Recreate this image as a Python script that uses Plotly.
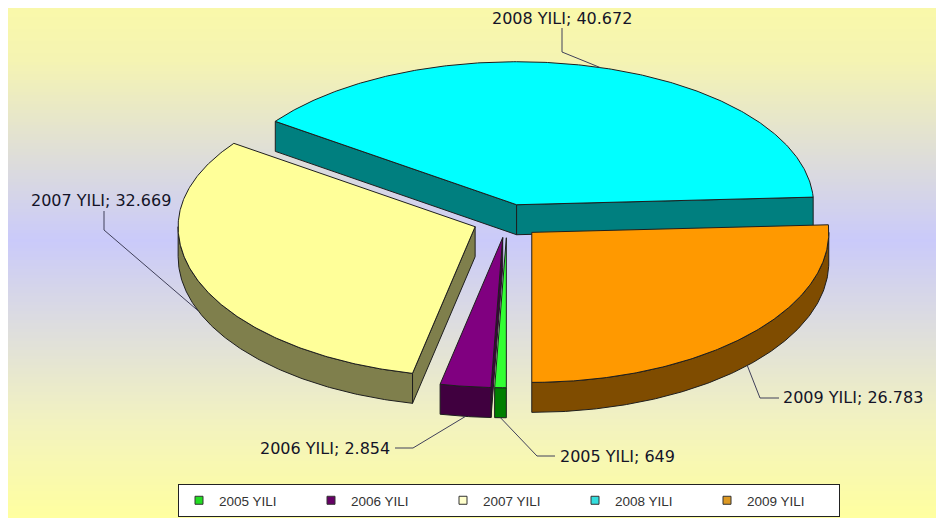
import numpy as np
import plotly.graph_objects as go

# ---------------- data ----------------
categories = ["2005 YILI", "2006 YILI", "2007 YILI", "2008 YILI", "2009 YILI"]
values = [649, 2854, 32669, 40672, 26783]

# ---------------- styles ----------------
top_colors = ["#33FF33", "#800080", "#FFFF99", "#00FFFF", "#FF9900"]
side_colors = ["#007F00", "#40003F", "#7F7F4C", "#007F7F", "#7F4C00"]
legend_colors = ["#22DD22", "#660066", "#FFFFCC", "#33DDDD", "#DD9922"]
OUTLINE = "#1E1E1E"
LABEL_COLOR = "#141428"
LEADER_COLOR = "#40405A"

# label placement (layout only, screen pixel coordinates)
label_text_pos = [(558, 456), (392, 448), (173, 200), (562, 18), (781, 397)]
label_xanchor = ["left", "right", "right", "center", "left"]
label_line_start = [(555, 456), (395, 448), (104, 211), (562, 28), (779, 398)]
label_elbow = [(537, 456), (413, 448), (104, 230), (562, 52), (760, 398)]

# canvas: page body has an 8px margin, so axes are shifted so that
# axis units equal screen pixels of the 944x518 window
W, H = 944, 518
PAGE = 8
CX, CY = 507.0, 220.5
RX = 297.0
RY_BACK, RY_FRONT = 143.0, 150.0
DEPTH = 30.0
EXPLODE = 0.115
START_ANGLE = 180.0  # degrees clockwise from 12 o'clock


def ry_of(c):
    return np.where(c > 0, RY_BACK, RY_FRONT)


def ell(theta_deg, cx, cy, r=1.0):
    t = np.radians(np.asarray(theta_deg, dtype=float))
    s, c = np.sin(t), np.cos(t)
    return cx + r * RX * s, cy - r * ry_of(c) * c


total = float(sum(values))
bounds = START_ANGLE + 360.0 * np.concatenate([[0.0], np.cumsum(values)]) / total

fig = go.Figure()

slices = []
for i, v in enumerate(values):
    a1, a2 = bounds[i], bounds[i + 1]
    mid = 0.5 * (a1 + a2)
    mt = np.radians(mid)
    dx = EXPLODE * RX * np.sin(mt)
    dy = -EXPLODE * float(ry_of(np.cos(mt))) * np.cos(mt)
    slices.append(dict(i=i, a1=a1, a2=a2, mid=mid, cx=CX + dx, cy=CY + dy))

# back to front drawing order
order = sorted(slices, key=lambda s: -np.cos(np.radians(s["mid"])))


def poly_trace(xs, ys, fill, name=None, hover=False, text=None):
    return go.Scatter(
        x=list(xs), y=list(ys), mode="lines", fill="toself",
        fillcolor=fill, line=dict(color=OUTLINE, width=1),
        showlegend=False, hoverinfo="text" if hover else "skip",
        text=text, hoveron="fills" if hover else None, name=name,
    )


for s in order:
    i, a1, a2, sx, sy = s["i"], s["a1"], s["a2"], s["cx"], s["cy"]
    # radial walls
    for a, vis in ((a1, np.sin(np.radians(a1)) < -1e-3), (a2, np.sin(np.radians(a2)) > 1e-3)):
        if vis:
            px, py = ell(a, sx, sy)
            xs = [sx, px, px, sx, sx]
            ys = [sy, py, py + DEPTH, sy + DEPTH, sy]
            fig.add_trace(poly_trace(xs, ys, side_colors[i]))
    # outer curved wall (front half only)
    for k in (0, 1):
        lo = max(a1, 90 + 360 * k)
        hi = min(a2, 270 + 360 * k)
        if hi > lo:
            th = np.linspace(lo, hi, max(2, int((hi - lo) * 2)))
            px, py = ell(th, sx, sy)
            xs = np.concatenate([px, px[::-1], px[:1]])
            ys = np.concatenate([py, py[::-1] + DEPTH, py[:1]])
            fig.add_trace(poly_trace(xs, ys, side_colors[i]))
    # top face
    th = np.linspace(a1, a2, max(2, int((a2 - a1) * 2)))
    px, py = ell(th, sx, sy)
    xs = np.concatenate([[sx], px, [sx]])
    ys = np.concatenate([[sy], py, [sy]])
    label = f"{values[i]:,}".replace(",", ".")
    fig.add_trace(poly_trace(xs, ys, top_colors[i], name=categories[i], hover=True,
                             text=f"{categories[i]}; {label}"))

# leader lines + labels
for s in slices:
    i = s["i"]
    mid = s["mid"]
    ax, ay = ell(mid, s["cx"], s["cy"])
    ax, ay = float(ax), float(ay)
    if np.cos(np.radians(mid)) < 0:
        ay += DEPTH
    (lx, ly), (ex, ey) = label_line_start[i], label_elbow[i]
    fig.add_trace(go.Scatter(x=[lx, ex, ax], y=[ly, ey, ay], mode="lines",
                             line=dict(color=LEADER_COLOR, width=1),
                             showlegend=False, hoverinfo="skip"))
    label = f"{values[i]:,}".replace(",", ".")
    tx, ty = label_text_pos[i]
    fig.add_annotation(x=tx, y=ty, xref="x", yref="y", text=f"{categories[i]}; {label}",
                       showarrow=False, xanchor=label_xanchor[i], yanchor="middle",
                       font=dict(family="DejaVu Sans", size=16, color=LABEL_COLOR))

# legend entries
for i, cat in enumerate(categories):
    fig.add_trace(go.Scatter(x=[None], y=[None], mode="markers", name=cat,
                             marker=dict(symbol="square", size=8, color=legend_colors[i],
                                         line=dict(color="#333333", width=1)),
                             showlegend=True, hoverinfo="skip"))

# gradient background bands
stops_y = [0, 60, 240, 420, 518]
stops_c = [(250, 249, 168), (245, 244, 178), (202, 202, 250), (242, 242, 192), (255, 255, 160)]
shapes = []
step = 3
for y0 in range(2, 530, step):
    yc = y0 + step / 2
    rgb = [int(round(np.interp(yc, stops_y, [c[k] for c in stops_c]))) for k in range(3)]
    shapes.append(dict(type="rect", xref="x", yref="y", x0=7, x1=W + PAGE, y0=y0, y1=y0 + step,
                       fillcolor=f"rgb({rgb[0]},{rgb[1]},{rgb[2]})", line=dict(width=0),
                       layer="below"))

LEG_LEFT, LEG_TOP = 178, 484
fig.update_layout(
    width=W, height=H,
    margin=dict(l=0, r=0, t=0, b=0, autoexpand=False),
    paper_bgcolor="white", plot_bgcolor="rgba(0,0,0,0)",
    xaxis=dict(range=[PAGE, W + PAGE], visible=False, fixedrange=True),
    yaxis=dict(range=[H + PAGE, PAGE], visible=False, fixedrange=True),
    shapes=shapes,
    showlegend=True,
    legend=dict(orientation="h", x=(LEG_LEFT - PAGE) / W, xanchor="left",
                y=1 - (LEG_TOP - PAGE) / H, yanchor="top",
                bgcolor="white", bordercolor="#222222", borderwidth=1,
                font=dict(family="Liberation Sans", size=13.5, color="#333333"),
                entrywidth=87, entrywidthmode="pixels", itemwidth=30,
                traceorder="normal"),
)

fig.write_html("out.html")
